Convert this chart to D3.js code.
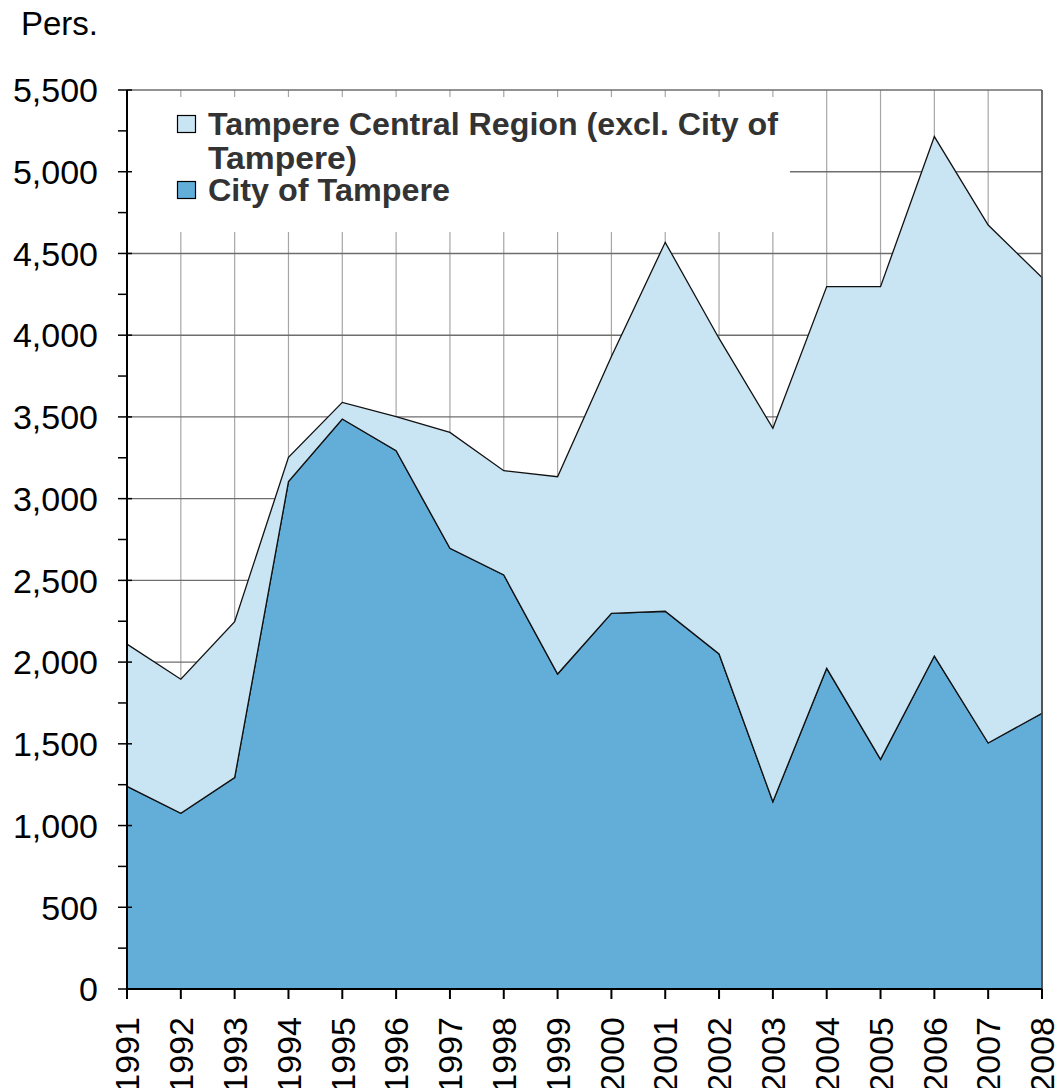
<!DOCTYPE html>
<html>
<head>
<meta charset="utf-8">
<script src="https://cdn.jsdelivr.net/npm/d3@7"></script>
<style>
  body { margin: 0; background: #fff; }
  svg { display: block; font-family: "Liberation Sans", Arial, sans-serif; }
</style>
</head>
<body>
<div id="chart"></div>
<script>
// Data
const years = ["1991","1992","1993","1994","1995","1996","1997","1998","1999",
  "2000","2001","2002","2003","2004","2005","2006","2007","2008"];
const cityOfTampere = [1240, 1075, 1293, 3104, 3487, 3293, 2696, 2533, 1927,
  2298, 2311, 2050, 1146, 1962, 1405, 2037, 1505, 1687];
const centralRegionExcl = [870, 820, 954, 149, 102, 208, 709, 638, 1207,
  1572, 2257, 1930, 2284, 2335, 2892, 3178, 3169, 2665];
const seriesNames = ["City of Tampere", "Tampere Central Region (excl. City of Tampere)"];
const yTicks = [0, 500, 1000, 1500, 2000, 2500, 3000, 3500, 4000, 4500, 5000, 5500];

const width = 1064, height = 1088;
const margin = { top: 90, right: 22, bottom: 99, left: 127 };
const colors = ["#62aed9", "#c9e4f3"];

const svg = d3.select("#chart").append("svg")
  .attr("width", width)
  .attr("height", height);

const x = d3.scalePoint()
  .domain(years)
  .range([margin.left, width - margin.right]);
const y = d3.scaleLinear()
  .domain([0, 5500])
  .range([height - margin.bottom, margin.top]);

// stacked table built from the arrays
const table = years.map((yr, i) => ({
  year: yr,
  city: cityOfTampere[i],
  region: centralRegionExcl[i]
}));
const stacked = d3.stack().keys(["city", "region"])(table);

// Gridlines
svg.append("g").selectAll("line")
  .data(years)
  .join("line")
  .attr("x1", d => x(d)).attr("x2", d => x(d))
  .attr("y1", y(5500)).attr("y2", y(0))
  .attr("stroke", "#a6a6a6")
  .attr("stroke-width", 1.2);
svg.append("g").selectAll("line")
  .data(yTicks.filter(d => d > 0))
  .join("line")
  .attr("x1", margin.left).attr("x2", width - margin.right)
  .attr("y1", d => y(d)).attr("y2", d => y(d))
  .attr("stroke", "#6e6e6e")
  .attr("stroke-width", 1.4);

// white legend background hides the grid
svg.append("rect")
  .attr("x", margin.left + 1)
  .attr("y", 97)
  .attr("width", 662)
  .attr("height", 135)
  .attr("fill", "#fff");

// Areas
const area = d3.area()
  .x(d => x(d.data.year))
  .y0(d => y(d[0]))
  .y1(d => y(d[1]));

svg.append("g").selectAll("path")
  .data(stacked)
  .join("path")
  .attr("d", area)
  .attr("fill", (d, i) => colors[i])
  .attr("stroke", "#111")
  .attr("stroke-width", 1.3)
  .attr("stroke-linejoin", "miter");

// right border of plot
svg.append("line")
  .attr("x1", width - margin.right).attr("x2", width - margin.right)
  .attr("y1", y(5500)).attr("y2", y(0))
  .attr("stroke", "#555").attr("stroke-width", 1.5);

// Y axis
const yAxis = svg.append("g");
yAxis.append("line")
  .attr("x1", margin.left).attr("x2", margin.left)
  .attr("y1", y(5500)).attr("y2", y(0))
  .attr("stroke", "#000").attr("stroke-width", 2);
yAxis.selectAll("line.major")
  .data(yTicks)
  .join("line")
  .attr("class", "major")
  .attr("x1", margin.left - 9).attr("x2", margin.left + 5)
  .attr("y1", d => y(d)).attr("y2", d => y(d))
  .attr("stroke", "#000").attr("stroke-width", 1.5);
yAxis.selectAll("line.minor")
  .data(d3.range(250, 5500, 500))
  .join("line")
  .attr("class", "minor")
  .attr("x1", margin.left - 9).attr("x2", margin.left)
  .attr("y1", d => y(d)).attr("y2", d => y(d))
  .attr("stroke", "#000").attr("stroke-width", 1.5);
yAxis.selectAll("text")
  .data(yTicks)
  .join("text")
  .attr("x", margin.left - 29)
  .attr("y", d => y(d))
  .attr("dy", "0.36em")
  .attr("text-anchor", "end")
  .attr("font-size", 34)
  .attr("fill", "#000")
  .text(d => d3.format(",")(d));

// X axis
const xAxis = svg.append("g");
xAxis.append("line")
  .attr("x1", margin.left).attr("x2", width - margin.right)
  .attr("y1", y(0)).attr("y2", y(0))
  .attr("stroke", "#000").attr("stroke-width", 2);
xAxis.selectAll("line.tick")
  .data(years)
  .join("line")
  .attr("class", "tick")
  .attr("x1", d => x(d)).attr("x2", d => x(d))
  .attr("y1", y(0)).attr("y2", y(0) + 10)
  .attr("stroke", "#000").attr("stroke-width", 2);
xAxis.selectAll("text")
  .data(years)
  .join("text")
  .attr("transform", d => `translate(${x(d)},${y(0) + 28}) rotate(-90)`)
  .attr("dy", "0.36em")
  .attr("text-anchor", "end")
  .attr("font-size", 34)
  .attr("fill", "#000")
  .text(d => d);

// Unit label
svg.append("text")
  .attr("x", 21)
  .attr("y", 35)
  .attr("font-size", 33)
  .attr("fill", "#000")
  .text("Pers.");

// Legend
const legend = svg.append("g").attr("transform", "translate(177,0)");
const legendItems = [
  { lines: ["Tampere Central Region (excl. City of", "Tampere)"], color: colors[1], y: 135, widths: [570, 149] },
  { lines: [seriesNames[0]], color: colors[0], y: 201, widths: [242] }
];
legendItems.forEach(item => {
  legend.append("rect")
    .attr("x", 0.5)
    .attr("y", item.y - 19.5)
    .attr("width", 18)
    .attr("height", 17)
    .attr("fill", item.color)
    .attr("stroke", "#000")
    .attr("stroke-width", 1.2);
  item.lines.forEach((t, j) => {
    legend.append("text")
      .attr("x", 31)
      .attr("y", item.y + j * 34)
      .attr("font-size", 30.5)
      .attr("font-weight", "bold")
      .attr("fill", "#333")
      .attr("textLength", item.widths[j])
      .attr("lengthAdjust", "spacingAndGlyphs")
      .text(t);
  });
});
</script>
</body>
</html>
